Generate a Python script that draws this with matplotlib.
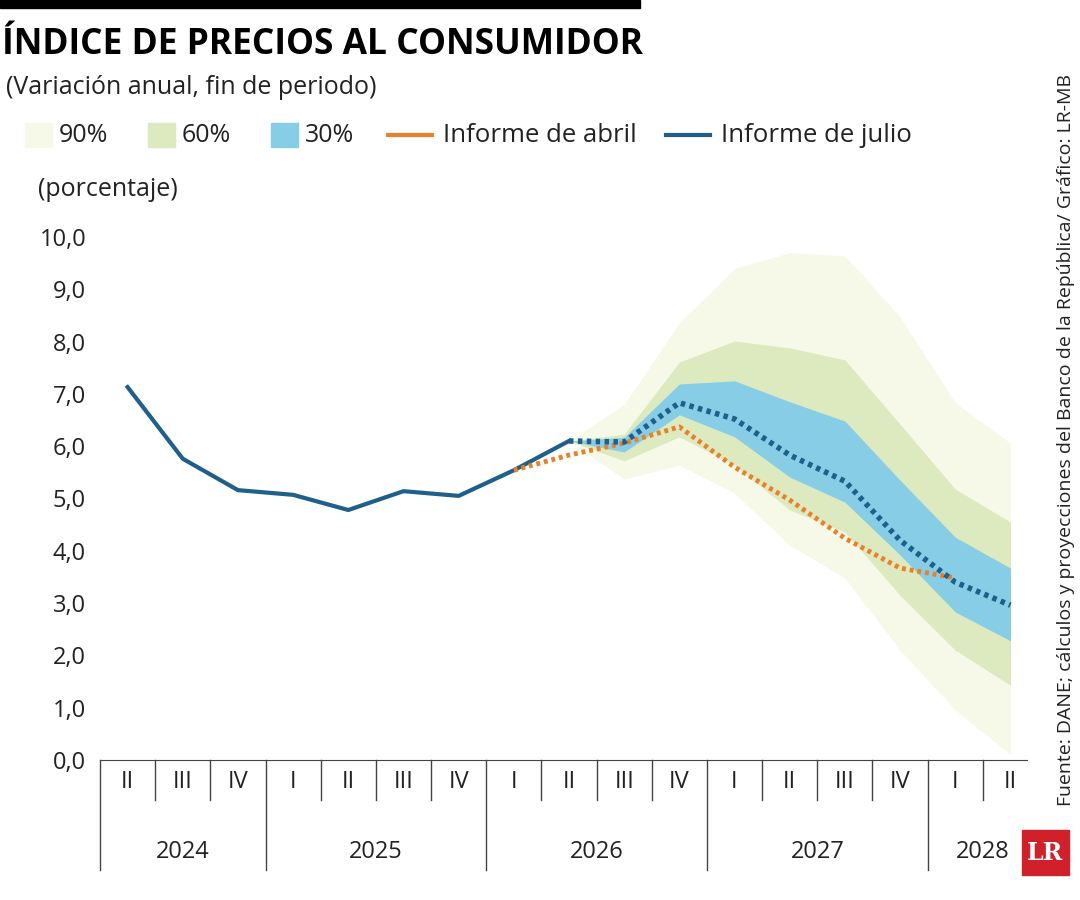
import matplotlib
matplotlib.use("Agg")
import matplotlib.pyplot as plt
from matplotlib.patches import Rectangle
import matplotlib.transforms as mt

quarters = ["II","III","IV","I","II","III","IV","I","II","III","IV","I","II","III","IV","I","II"]
years = ["2024","2025","2026","2027","2028"]
year_spans = [(-0.5,2.5),(2.5,6.5),(6.5,10.5),(10.5,14.5),(14.5,16.5)]

julio_obs = [7.13,5.76,5.16,5.07,4.78,5.14,5.05,5.54,6.10]
julio_fc = [6.10,6.08,6.83,6.52,5.83,5.33,4.20,3.40,2.96]
abril_fc = [5.54,5.83,6.06,6.37,5.60,4.97,4.24,3.67,3.48]
f90_up = [6.10,6.80,8.36,9.40,9.70,9.64,8.47,6.83,6.06]
f90_lo = [6.10,5.37,5.64,5.10,4.11,3.48,2.10,0.96,0.10]
f60_up = [6.10,6.23,7.61,8.01,7.88,7.65,6.42,5.18,4.55]
f60_lo = [6.10,5.72,6.18,5.64,4.78,4.36,3.15,2.10,1.43]
f30_up = [6.10,6.17,7.19,7.25,6.85,6.48,5.35,4.26,3.67]
f30_lo = [6.10,5.89,6.60,6.18,5.41,4.93,3.92,2.83,2.28]

c90, c60, c30 = "#f7f9e8", "#dde9bf", "#88cde6"
blue, orange = "#1f5f8b", "#e8812a"

fig = plt.figure(figsize=(10.8, 9), dpi=100)
plt.rcParams['font.family'] = ['Open Sans', 'DejaVu Sans']
ax = fig.add_axes([100/1080, 1-760/900, 927/1080, 523/900])
x_obs = list(range(0, 9))
x_fc = list(range(8, 17))
x_ab = list(range(7, 16))
ax.fill_between(x_fc, f90_lo, f90_up, color=c90, lw=0)
ax.fill_between(x_fc, f60_lo, f60_up, color=c60, lw=0)
ax.fill_between(x_fc, f30_lo, f30_up, color=c30, lw=0)
ax.plot(x_obs, julio_obs, color=blue, lw=3)
ax.plot(x_ab, abril_fc, color=orange, lw=3.5, ls=(0, (0.8, 0.8)))
ax.plot(x_fc, julio_fc, color=blue, lw=4, ls=(0, (0.8, 0.8)))
ax.set_xlim(-0.5, 16.3)
ax.set_ylim(0, 10)
for s in ["top", "right", "left"]:
    ax.spines[s].set_visible(False)
ax.spines["bottom"].set_color("#444444")
ax.set_xticks([])
ax.set_yticks([i for i in range(11)])
ax.set_yticklabels([f"{i},0" for i in range(11)], fontsize=17, color="#222222")
ax.tick_params(axis="y", length=0, pad=10)
tr = mt.blended_transform_factory(ax.transData, fig.transFigure)
for i, q in enumerate(quarters):
    fig.text(i, 1-782/900, q, transform=tr, ha="center", va="center", fontsize=17, color="#222222")
for i in range(16):
    b = i + 0.5
    if b in (2.5, 6.5, 10.5, 14.5):
        continue
    ax.plot([b, b], [1-760/900, 1-800/900], transform=tr, color="#444444", lw=1, clip_on=False)
for (a, b), y in zip(year_spans, years):
    fig.text((a+b)/2, 1-852/900, y, transform=tr, ha="center", va="center", fontsize=17, color="#222222")
for b in (-0.5, 2.5, 6.5, 10.5, 14.5):
    ax.plot([b, b], [1-760/900, 1-870/900], transform=tr, color="#444444", lw=1, clip_on=False)

fig.patches.append(Rectangle((0, 1-8/900), 640/1080, 8/900, transform=fig.transFigure, color="black"))
fig.text(2/1080, 1-45/900, "ÍNDICE DE PRECIOS AL CONSUMIDOR", fontsize=25.5, fontweight="bold", va="center", ha="left")
fig.text(6/1080, 1-87/900, "(Variación anual, fin de periodo)", fontsize=18, va="center", ha="left", color="#222222")
fig.text(38/1080, 1-189/900, "(porcentaje)", fontsize=18, va="center", ha="left", color="#222222")
ly = 1-135/900
for xp, col, lab in [(25, c90, "90%"), (148, c60, "60%"), (271, c30, "30%")]:
    fig.patches.append(Rectangle((xp/1080, ly-12/900), 27/1080, 24/900, transform=fig.transFigure, color=col))
    fig.text((xp+34)/1080, ly, lab, fontsize=18, va="center", color="#222222")
for xp, col, lab in [(388, orange, "Informe de abril"), (666, blue, "Informe de julio")]:
    fig.lines.append(plt.Line2D([xp/1080, (xp+44)/1080], [ly, ly], transform=fig.transFigure, color=col, lw=3))
    fig.text((xp+55)/1080, ly, lab, fontsize=18.5, va="center", color="#222222")
fig.text(1066/1080, 1-440/900, "Fuente: DANE; cálculos y proyecciones del Banco de la República/ Gráfico: LR-MB",
         rotation=90, fontsize=14, va="center", ha="center", color="#222222")
fig.patches.append(Rectangle((1022/1080, 1-875/900), 47/1080, 45/900, transform=fig.transFigure, color="#d0202a"))
fig.text(1045/1080, 1-853/900, "LR", fontsize=17, fontweight="bold", color="white", ha="center", va="center", family="DejaVu Serif")
fig.savefig("out.png", dpi=100)
